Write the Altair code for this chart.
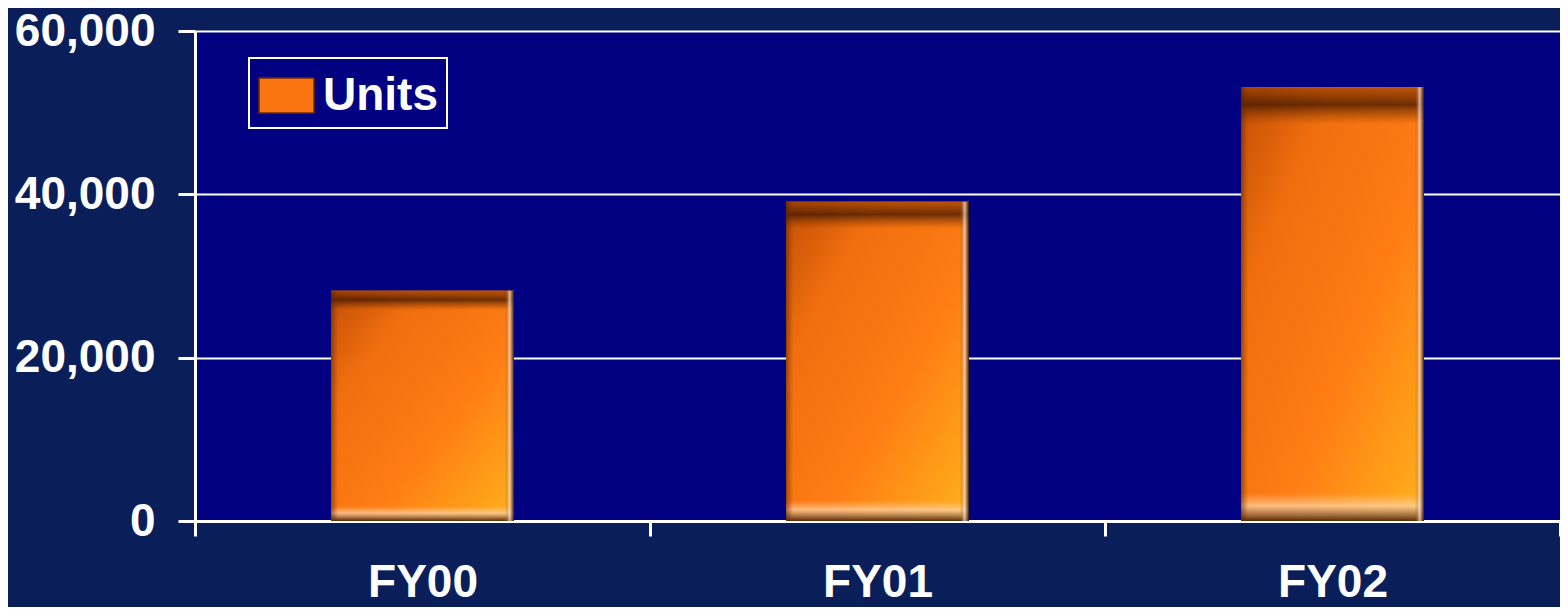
import altair as alt
import pandas as pd

categories = ["FY00", "FY01", "FY02"]
units = [28200, 39100, 53100]
series = ["Units", "Units", "Units"]
y_ticks = [0, 20000, 40000, 60000]

df = pd.DataFrame({"year": categories, "units": units, "series": series})

FONT = "Liberation Sans"
BAR_W = 183

x_enc = alt.X("year:N", sort=categories, title=None,
              scale=alt.Scale(paddingInner=0, paddingOuter=0),
              axis=alt.Axis(labelAngle=0, tickBand="extent", tickSize=15,
                            labelPadding=24, grid=False))
y_enc = alt.Y("units:Q", title=None,
              scale=alt.Scale(domain=[0, 60000], nice=False),
              axis=alt.Axis(values=y_ticks, format=",d", tickSize=17,
                            labelPadding=23, grid=True))

base = alt.Chart(df)

legend_bar = base.mark_bar(size=BAR_W).encode(
    x=x_enc, y=y_enc,
    fill=alt.Fill("series:N", title=None,
                  scale=alt.Scale(range=["#fa7410"]),
                  legend=alt.Legend(orient="none", legendX=54, legendY=27,
                                    symbolType="M-1,-0.636L1,-0.636L1,0.636L-1,0.636Z",
                                    symbolSize=3025)),
)

main_grad = alt.LinearGradient(
    gradient="linear", x1=0, y1=0, x2=1, y2=1,
    stops=[
        alt.GradientStop(offset=0, color="#c24f06"),
        alt.GradientStop(offset=0.25, color="#f06e0e"),
        alt.GradientStop(offset=0.6, color="#ff7d14"),
        alt.GradientStop(offset=1, color="#ffb21c"),
    ],
)
grad_bar = base.mark_bar(size=BAR_W, color=main_grad).encode(x=x_enc, y=y_enc)

bevel_grad = alt.LinearGradient(
    gradient="linear", x1=0, y1=0, x2=0, y2=1,
    stops=[
        alt.GradientStop(offset=0, color="rgba(150,60,0,0.6)"),
        alt.GradientStop(offset=0.04, color="rgba(60,20,0,0.75)"),
        alt.GradientStop(offset=0.085, color="rgba(120,50,0,0)"),
        alt.GradientStop(offset=0.935, color="rgba(255,200,150,0)"),
        alt.GradientStop(offset=0.965, color="rgba(255,215,175,0.7)"),
        alt.GradientStop(offset=1, color="rgba(70,30,0,0.9)"),
    ],
)
bevel_bar = base.mark_bar(size=BAR_W, color=bevel_grad).encode(x=x_enc, y=y_enc)

side_grad = alt.LinearGradient(
    gradient="linear", x1=0, y1=0, x2=1, y2=0,
    stops=[
        alt.GradientStop(offset=0, color="rgba(80,30,0,0.55)"),
        alt.GradientStop(offset=0.04, color="rgba(120,50,0,0)"),
        alt.GradientStop(offset=0.95, color="rgba(120,50,0,0)"),
        alt.GradientStop(offset=0.975, color="rgba(255,225,200,0.7)"),
        alt.GradientStop(offset=1, color="rgba(40,10,0,0.9)"),
    ],
)
side_bar = base.mark_bar(size=BAR_W, color=side_grad).encode(x=x_enc, y=y_enc)

chart = alt.layer(legend_bar, grad_bar, bevel_bar, side_bar).properties(
    width=1365, height=490,
    autosize=alt.AutoSizeParams(type="none"),
    padding={"left": 187, "top": 23, "right": 0, "bottom": 86},
    background="#0a1f5a",
).configure_view(
    fill="#000080", stroke=None,
).configure_axis(
    domainColor="white", domainWidth=3,
    tickColor="white", tickWidth=3,
    gridColor="white", gridWidth=2,
    labelColor="white", labelFont=FONT, labelFontSize=46, labelFontWeight="bold",
).configure_legend(
    fillColor="#000080", strokeColor="white", strokeWidth=2, padding=9,
    labelColor="white", labelFont=FONT, labelFontSize=46, labelFontWeight="bold",
    labelOffset=8, symbolStrokeColor="#6b2a00", symbolStrokeWidth=1.5,
    symbolOpacity=1,
)

chart.save("out.html", embed_options={"renderer": "svg", "actions": False})
